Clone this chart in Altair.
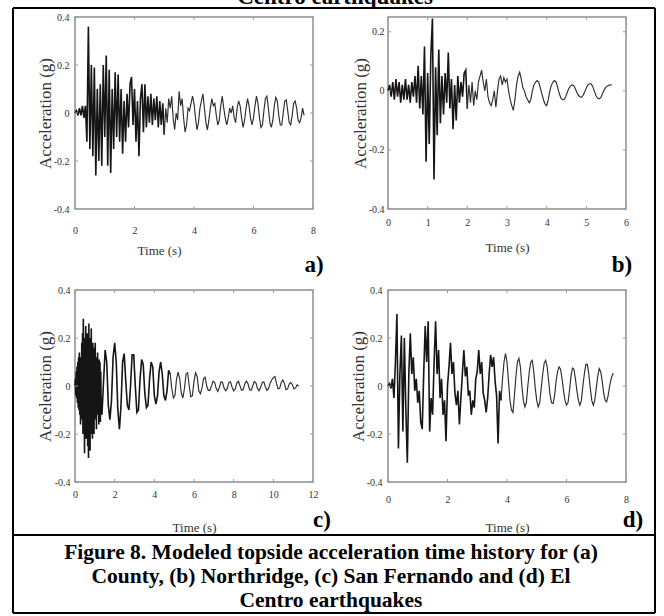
import altair as alt
import pandas as pd

FONT = "Liberation Serif"

# ---------------- data ----------------
# (a) County: sample step 0.05 s
dt_a = 0.05
acc_a = [
    0.0, 0.01, -0.01, 0.02, -0.01, 0.03, -0.02, 0.03, -0.12, 0.36,
    -0.15, 0.2, -0.18, 0.19, -0.26, 0.1, -0.2, 0.12, -0.22, 0.2,
    -0.1, 0.24, -0.22, 0.18, -0.25, 0.1, -0.15, 0.17, -0.1, 0.16,
    -0.12, 0.1, -0.17, 0.05, -0.12, 0.08, -0.06, 0.12, 0.15, -0.05,
    0.1, -0.12, 0.05, -0.18, 0.06, 0.12, -0.08, 0.12, -0.06, 0.07,
    -0.04, 0.08, -0.05, 0.06, -0.03, 0.07, -0.06, 0.05, -0.05, 0.04,
    -0.09, 0.02, -0.04, 0.06, 0.02, 0.07, -0.02, -0.07, 0.0, -0.03,
    0.09, 0.03, 0.06, -0.02, -0.08, -0.05, 0.02, 0.01, 0.04, 0.07,
    0.04, -0.02, -0.07, -0.04, 0.02, 0.05, 0.08, 0.02, -0.04, -0.07,
    -0.03, 0.02, 0.06, 0.03, 0.04, -0.01, -0.05, -0.03, 0.03, 0.07,
    0.02, -0.02, -0.05, -0.02, 0.02, 0.0, 0.03, -0.02, -0.04, 0.02,
    0.05, 0.03, -0.02, -0.06, -0.03, 0.02, 0.06, 0.03, -0.02, -0.05,
    -0.02, 0.03, 0.07, 0.04, -0.02, -0.06, -0.05, 0.01, 0.06, 0.07,
    0.02, -0.04, -0.06, -0.03, 0.03, 0.065, 0.05, -0.01, -0.05, -0.05,
    0.0, 0.05, 0.055, 0.01, -0.04, -0.05, -0.01, 0.04, 0.05, 0.02,
    -0.03, -0.04, -0.02, 0.02, -0.01,
]

# (b) Northridge: sample step 0.04 s
dt_b = 0.04
acc_b = [
    0.0, 0.02, -0.02, 0.03, -0.03, 0.04, -0.02, 0.03, -0.04, 0.02,
    -0.03, 0.04, -0.03, 0.02, -0.04, 0.03, -0.02, 0.05, -0.04, 0.085,
    -0.06, 0.05, -0.08, 0.15, -0.24, 0.06, -0.18, 0.12, 0.245, -0.3,
    0.08, -0.15, 0.14, -0.11, 0.05, -0.08, 0.06, -0.04, 0.13, -0.06,
    0.04, -0.13, 0.02, -0.1, 0.05, -0.04, 0.03, -0.02, 0.06, 0.07,
    -0.06, 0.02, -0.04, 0.03, -0.05, 0.0, -0.03, 0.03, 0.05, 0.07,
    0.03, 0.0, 0.04, -0.02, -0.04, -0.05, -0.03, 0.0, -0.055, 0.0,
    0.04, 0.05, 0.02, 0.045, 0.03, 0.04, 0.0, -0.03, -0.05, -0.066,
    -0.03, 0.02, 0.05, 0.063, 0.04, 0.01, 0.0, -0.02, -0.03, -0.04,
    -0.03, 0.0, 0.02, 0.03, 0.035, 0.03, 0.01, -0.01, -0.03, -0.045,
    -0.05, -0.03, 0.0, 0.02, 0.03, 0.035, 0.03, 0.01, -0.01, -0.025,
    -0.03, -0.03, -0.02, -0.005, 0.008, 0.016, 0.02, 0.018, 0.008, -0.005,
    -0.015, -0.02, -0.022, -0.015, -0.003, 0.01, 0.02, 0.024, 0.024, 0.015,
    0.0, -0.015, -0.024, -0.027, -0.024, -0.012, 0.0, 0.01, 0.016, 0.018,
    0.02, 0.02,
]

# (c) San Fernando: onset sampled every 0.02 s (0 - 1.34 s), rest every 0.08 s
dt_c_onset = 0.02
acc_c_onset = [
    0.0, 0.03, -0.04, 0.06, -0.05, 0.08, -0.07, 0.1, -0.09, 0.12,
    -0.1, 0.14, -0.12, 0.08, -0.16, 0.12, -0.08, 0.18, -0.14, 0.22,
    -0.2, 0.28, -0.12, 0.1, -0.28, 0.2, -0.1, 0.25, -0.22, 0.12,
    -0.15, 0.22, -0.25, 0.1, -0.3, 0.26, -0.12, 0.15, -0.27, 0.2,
    -0.1, 0.24, -0.2, 0.1, -0.22, 0.18, -0.12, 0.14, -0.2, 0.16,
    -0.12, 0.18, -0.14, 0.1, -0.18, 0.12, -0.1, 0.14, -0.12, 0.1,
    -0.16, 0.11, -0.08, 0.1, -0.15, 0.06, -0.12, -0.05,
]
t_c_tail_start = 1.36
dt_c = 0.08
acc_c_tail = [
    -0.12, 0.02, 0.15,
    0.1, -0.08, -0.14, -0.06, 0.12, 0.18, 0.1, -0.1, -0.18, -0.08,
    0.1, 0.135, 0.02, -0.08, -0.1, 0.0, 0.13, 0.13, 0.0, -0.11,
    -0.1, 0.03, 0.11, 0.09, -0.03, -0.09, -0.08, 0.03, 0.1, 0.08,
    -0.04, -0.075, -0.04, 0.06, 0.1, 0.05, -0.04, -0.06, -0.02, 0.065,
    0.05, -0.01, -0.05, -0.04, 0.03, 0.058, 0.03, -0.03, -0.05, -0.01,
    0.05, 0.055, 0.0, -0.045, -0.04, 0.02, 0.055, 0.04, -0.02, -0.032,
    -0.01, 0.03, 0.037, 0.0, -0.018, -0.018, 0.0, 0.02, 0.015, -0.01,
    -0.022, -0.005, 0.018, 0.015, -0.01, -0.02, -0.01, 0.015, 0.018, -0.005,
    -0.02, -0.012, 0.012, 0.02, 0.0, -0.018, -0.015, 0.008, 0.02, 0.01,
    -0.015, -0.018, 0.0, 0.018, 0.014, -0.01, -0.02, -0.005, 0.015, 0.018,
    -0.004, -0.018, -0.01, 0.012, 0.025, 0.035, 0.04, 0.01, -0.012, -0.01,
    0.015, 0.025, 0.01, -0.015, -0.012, 0.008, 0.015, 0.005, -0.012, -0.008,
    0.005, 0.0,
]

# (d) El Centro: sample step 0.05 s
dt_d = 0.05
acc_d = [
    0.0, 0.01, -0.01, 0.03, -0.05, 0.1, 0.3, -0.26, 0.05, 0.21,
    -0.19, 0.2, -0.1, -0.32, 0.05, 0.22, 0.05, 0.12, -0.02, 0.03,
    -0.07, -0.02, -0.15, -0.18, 0.05, 0.25, 0.1, 0.27, -0.19, -0.05,
    -0.12, 0.1, 0.27, 0.05, 0.15, -0.05, 0.03, -0.12, -0.06, -0.23,
    0.0, 0.08, 0.18, 0.05, 0.1, -0.03, -0.08, -0.02, -0.16, -0.05,
    0.05, 0.15, 0.04, 0.08, -0.04, -0.02, -0.12, -0.06, -0.09, 0.03,
    0.06, 0.15, 0.05, 0.1, -0.03, -0.06, -0.11, -0.05, 0.05, 0.13,
    0.08, 0.12, 0.02, -0.04, -0.24, -0.02, -0.06, 0.03, 0.1, 0.135,
    0.1, 0.02, -0.06, -0.1, -0.11, -0.04, 0.04, 0.1, 0.115, 0.08,
    0.0, -0.06, -0.087, -0.07, 0.0, 0.06, 0.1, 0.107, 0.06, -0.01,
    -0.06, -0.087, -0.07, -0.01, 0.05, 0.095, 0.107, 0.08, 0.02, -0.04,
    -0.07, -0.073, -0.04, 0.02, 0.06, 0.08, 0.07, 0.03, -0.02, -0.06,
    -0.08, -0.07, -0.02, 0.04, 0.075, 0.07, 0.03, -0.02, -0.06, -0.08,
    -0.06, 0.0, 0.05, 0.09, 0.09, 0.05, -0.01, -0.06, -0.08, -0.06,
    -0.01, 0.04, 0.073, 0.06, 0.02, -0.03, -0.06, -0.066, -0.04, 0.0,
    0.03, 0.05, 0.05,
]

x_ticks_a = [0, 2, 4, 6, 8]
x_ticks_b = [0, 1, 2, 3, 4, 5, 6]
x_ticks_c = [0, 2, 4, 6, 8, 10, 12]
x_ticks_d = [0, 2, 4, 6, 8]
y_ticks = [-0.4, -0.2, 0, 0.2, 0.4]
y_ticks_b = [-0.4, -0.2, 0, 0.2]

panel_labels = ["a)", "b)", "c)", "d)"]
caption_lines = [
    "Figure 8. Modeled topside acceleration time history for (a)",
    "County, (b) Northridge, (c) San Fernando and (d) El",
    "Centro earthquakes",
]
top_fragment = "Centro earthquakes"

W, H = 238, 192
CAP_SIZE = 21.5
Y_LABEL_EXPR = "datum.value == 0 ? '0' : replace(format(datum.value, '.1f'), '\u2212', '-')"


def uniform_times(n, dt, start=0.0):
    return [round(start + i * dt, 4) for i in range(n)]


def panel(times, values, split, xmax, xticks, ydomain, yticks, label, xlab_pad, ylab_pad,
          xtitle_x, xtitle_y, ytitle_x, lab_x, lab_y):
    df = pd.DataFrame({"t": times, "acc": values})
    xs = alt.Scale(domain=[0, xmax], nice=False, zero=False)
    ys = alt.Scale(domain=ydomain, nice=False, zero=False)
    xaxis = alt.Axis(
        values=xticks, title="Time (s)", format="d",
        titleFont=FONT, titleFontSize=13, titleFontWeight="normal", titleColor="#333",
        titleX=xtitle_x, titleY=xtitle_y, titleBaseline="middle",
        labelFont=FONT, labelFontSize=10, labelColor="#333", labelPadding=xlab_pad,
        labelFlush=False, labelOverlap=False, ticks=False, domain=False, grid=False)
    yaxis = alt.Axis(
        values=yticks, title="Acceleration (g)", labelExpr=Y_LABEL_EXPR,
        titleFont=FONT, titleFontSize=17, titleFontWeight="normal", titleColor="#333",
        titleX=ytitle_x, titleY=H / 2, titleBaseline="middle", titleAlign="center",
        labelFont=FONT, labelFontSize=10, labelColor="#333", labelPadding=ylab_pad,
        labelFlush=False, labelOverlap=False, ticks=False, domain=False, grid=False)
    enc = dict(
        x=alt.X("t:Q", scale=xs, axis=xaxis, title="Time (s)"),
        y=alt.Y("acc:Q", scale=ys, axis=yaxis, title="Acceleration (g)"),
    )
    # strong shaking part drawn heavier (dense ink in the scan), calmer tail lighter
    dense = alt.Chart(df[df["t"] <= split]).mark_line(
        color="#151515", strokeWidth=1.6).encode(**enc)
    calm = alt.Chart(df[df["t"] >= split]).mark_line(
        color="#2e2e2e", strokeWidth=1.15).encode(**enc)
    xt = pd.DataFrame({"t": xticks})
    yt = pd.DataFrame({"acc": yticks})
    tick_style = dict(color="#9a9a9a", strokeWidth=1)
    xb = alt.Chart(xt).mark_rule(**tick_style).encode(
        x=alt.X("t:Q", scale=xs, axis=xaxis, title="Time (s)"),
        y=alt.value(H), y2=alt.value(H - 3))
    xtop = alt.Chart(xt).mark_rule(**tick_style).encode(
        x=alt.X("t:Q", scale=xs, axis=xaxis, title="Time (s)"),
        y=alt.value(0), y2=alt.value(3))
    yl = alt.Chart(yt).mark_rule(**tick_style).encode(
        y=alt.Y("acc:Q", scale=ys, axis=yaxis, title="Acceleration (g)"),
        x=alt.value(0), x2=alt.value(3))
    yr = alt.Chart(yt).mark_rule(**tick_style).encode(
        y=alt.Y("acc:Q", scale=ys, axis=yaxis, title="Acceleration (g)"),
        x=alt.value(W - 3), x2=alt.value(W))
    lab = alt.Chart(pd.DataFrame({"s": [label]})).mark_text(
        font=FONT, fontSize=23, fontWeight="bold", color="black",
        align="center", baseline="middle").encode(
        text="s:N", x=alt.value(lab_x), y=alt.value(lab_y))
    return [dense, calm, xb, xtop, yl, yr, lab]


def hline(y, x0, x1):
    return alt.Chart(pd.DataFrame({"k": [0]})).mark_rule(color="black", strokeWidth=2).encode(
        y=alt.value(y), x=alt.value(x0), x2=alt.value(x1))


def vline(x, y0, y1):
    return alt.Chart(pd.DataFrame({"k": [0]})).mark_rule(color="black", strokeWidth=2).encode(
        x=alt.value(x), y=alt.value(y0), y2=alt.value(y1))


def text_line(s, x, y, size=CAP_SIZE):
    return alt.Chart(pd.DataFrame({"s": [s]})).mark_text(
        font=FONT, fontSize=size, fontWeight="bold", color="black",
        align="center", baseline="alphabetic").encode(
        text="s:N", x=alt.value(x), y=alt.value(y))


# panel a (origin at page 75,17)
layers_a = panel(uniform_times(len(acc_a), dt_a), acc_a, 3.0, 8, x_ticks_a, [-0.4, 0.4], y_ticks,
                 panel_labels[0], 16, 6, 84, 41, -30, 239, 248)
layers_a.append(text_line(top_fragment, 260, -13, 23))
pa = alt.layer(*layers_a).properties(width=W, height=H)

# panel b (origin at page 388,17)
layers_b = panel(uniform_times(len(acc_b), dt_b), acc_b, 2.0, 6, x_ticks_b, [-0.4, 0.25], y_ticks_b,
                 panel_labels[1], 8, 4, W / 2, 38, -28, 234, 248)
pb = alt.layer(*layers_b).properties(width=W, height=H)

# panel c (origin at page 75,290) - also carries the frame and caption
t_c = uniform_times(len(acc_c_onset), dt_c_onset) + uniform_times(len(acc_c_tail), dt_c, t_c_tail_start)
layers_c = panel(t_c, acc_c_onset + acc_c_tail, 4.8, 12, x_ticks_c, [-0.4, 0.4], y_ticks,
                 panel_labels[2], 7, 5, W / 2, 45, -30, 247, 230)
layers_c += [
    hline(-282, -62, 580),
    hline(323, -62, 580),
    hline(245, -62, 580),
    vline(-62, -282, 323),
    vline(580, -282, 323),
    text_line(caption_lines[0], 256, 269),
    text_line(caption_lines[1], 256, 293),
    text_line(caption_lines[2], 256, 317),
]
pc = alt.layer(*layers_c).properties(width=W, height=H)

# panel d (origin at page 388,290)
layers_d = panel(uniform_times(len(acc_d), dt_d), acc_d, 3.8, 8, x_ticks_d, [-0.4, 0.4], y_ticks,
                 panel_labels[3], 12, 6, W / 2, 45, -30, 245, 230)
pd_ = alt.layer(*layers_d).properties(width=W, height=H)

chart = alt.concat(pa, pb, pc, pd_, columns=2, spacing={"row": 81, "column": 75},
                   bounds="flush").properties(
    autosize=alt.AutoSizeParams(type="none"),
    padding={"left": 75, "top": 17, "right": 589, "bottom": 599},
).configure(background="white").configure_view(stroke="#8f8f8f", strokeWidth=1.5)

chart.save("out.html", embed_options={"renderer": "svg", "actions": False})
